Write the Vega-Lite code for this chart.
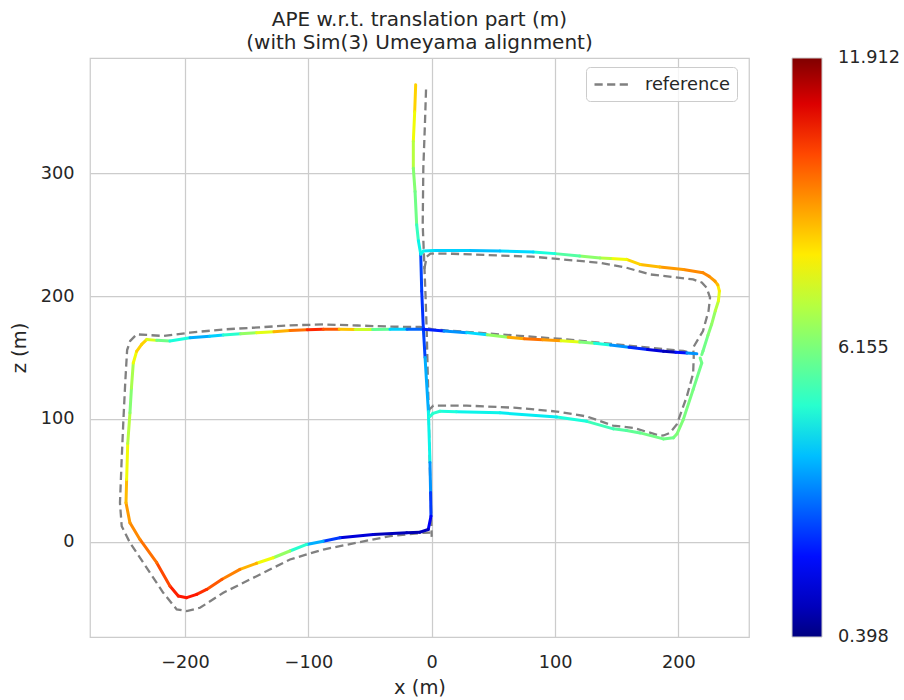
{
  "$schema": "https://vega.github.io/schema/vega-lite/v6.json",
  "width": 659,
  "height": 579,
  "autosize": {"type": "none"},
  "padding": {"left": 90, "top": 58, "right": 155, "bottom": 63},
  "background": "white",
  "title": {
    "text": ["APE w.r.t. translation part (m)", "(with Sim(3) Umeyama alignment)"],
    "fontSize": 20,
    "fontWeight": "normal",
    "color": "#262626",
    "font": "DejaVu Sans",
    "anchor": "middle",
    "lineHeight": 23,
    "offset": 5
  },
  "datasets": {
    "est": [
      {"s": 1, "i": 1, "x": -13.0, "z": 372, "e": 8.3},
      {"s": 1, "i": 2, "x": -13.8, "z": 350, "e": 7.8},
      {"s": 1, "i": 3, "x": -14.9, "z": 326, "e": 7.0},
      {"s": 1, "i": 4, "x": -14.9, "z": 304, "e": 6.3},
      {"s": 1, "i": 5, "x": -13.5, "z": 285, "e": 6.0},
      {"s": 1, "i": 6, "x": -12.2, "z": 258, "e": 5.2},
      {"s": 1, "i": 7, "x": -10.8, "z": 245, "e": 4.6},
      {"s": 1, "i": 8, "x": -8.9, "z": 234, "e": 2.6},
      {"s": 1, "i": 9, "x": -8.1, "z": 204, "e": 2.4},
      {"s": 1, "i": 10, "x": -6.8, "z": 174, "e": 2.6},
      {"s": 1, "i": 11, "x": -5.4, "z": 150, "e": 3.8},
      {"s": 1, "i": 12, "x": -2.7, "z": 106, "e": 4.6},
      {"s": 1, "i": 13, "x": -1.4, "z": 64.5, "e": 3.5},
      {"s": 1, "i": 14, "x": -0.9, "z": 40, "e": 2.5},
      {"s": 1, "i": 15, "x": -0.6, "z": 20.8, "e": 1.6},
      {"s": 1, "i": 16, "x": -2.8, "z": 10, "e": 1.0},
      {"s": 1, "i": 17, "x": -9.5, "z": 7.8, "e": 0.9},
      {"s": 1, "i": 18, "x": -20.3, "z": 7.3, "e": 1.0},
      {"s": 1, "i": 19, "x": -47.4, "z": 5.9, "e": 1.3},
      {"s": 1, "i": 20, "x": -74.4, "z": 3.2, "e": 2.5},
      {"s": 1, "i": 21, "x": -88, "z": 0.5, "e": 3.8},
      {"s": 1, "i": 22, "x": -101.4, "z": -2.2, "e": 5.0},
      {"s": 1, "i": 23, "x": -115, "z": -7.5, "e": 6.5},
      {"s": 1, "i": 24, "x": -128.5, "z": -13, "e": 7.8},
      {"s": 1, "i": 25, "x": -142, "z": -17.5, "e": 8.7},
      {"s": 1, "i": 26, "x": -155.5, "z": -22.5, "e": 9.3},
      {"s": 1, "i": 27, "x": -170, "z": -30.5, "e": 9.8},
      {"s": 1, "i": 28, "x": -182.5, "z": -38.8, "e": 10.3},
      {"s": 1, "i": 29, "x": -190.6, "z": -42.8, "e": 10.6},
      {"s": 1, "i": 30, "x": -198.7, "z": -45.5, "e": 10.6},
      {"s": 1, "i": 31, "x": -205.5, "z": -44.2, "e": 10.5},
      {"s": 1, "i": 32, "x": -212.3, "z": -36, "e": 10.0},
      {"s": 1, "i": 33, "x": -223, "z": -17, "e": 9.5},
      {"s": 1, "i": 34, "x": -236.6, "z": 1.9, "e": 9.2},
      {"s": 1, "i": 35, "x": -244.7, "z": 15.4, "e": 9.0},
      {"s": 1, "i": 36, "x": -247.9, "z": 31.7, "e": 8.6},
      {"s": 1, "i": 37, "x": -247.4, "z": 50.7, "e": 7.8},
      {"s": 1, "i": 38, "x": -246.5, "z": 80, "e": 7.0},
      {"s": 1, "i": 39, "x": -244.7, "z": 104.9, "e": 6.3},
      {"s": 1, "i": 40, "x": -243.5, "z": 125, "e": 6.8},
      {"s": 1, "i": 41, "x": -242, "z": 145.5, "e": 7.8},
      {"s": 1, "i": 42, "x": -239.3, "z": 155, "e": 8.3},
      {"s": 1, "i": 43, "x": -235.2, "z": 160.7, "e": 8.3},
      {"s": 1, "i": 44, "x": -231, "z": 164.7, "e": 7.5},
      {"s": 1, "i": 45, "x": -223, "z": 163.9, "e": 6.0},
      {"s": 1, "i": 46, "x": -212.3, "z": 163.4, "e": 4.8},
      {"s": 1, "i": 47, "x": -196, "z": 166.1, "e": 3.8},
      {"s": 1, "i": 48, "x": -180, "z": 167.3, "e": 4.2},
      {"s": 1, "i": 49, "x": -169, "z": 168.3, "e": 5.0},
      {"s": 1, "i": 50, "x": -155, "z": 169.2, "e": 6.5},
      {"s": 1, "i": 51, "x": -142, "z": 170.2, "e": 7.6},
      {"s": 1, "i": 52, "x": -128, "z": 171, "e": 8.7},
      {"s": 1, "i": 53, "x": -114.9, "z": 172, "e": 9.5},
      {"s": 1, "i": 54, "x": -101, "z": 172.5, "e": 10.4},
      {"s": 1, "i": 55, "x": -87.9, "z": 172.9, "e": 9.8},
      {"s": 1, "i": 56, "x": -75, "z": 172.9, "e": 8.5},
      {"s": 1, "i": 57, "x": -62, "z": 172.8, "e": 7.3},
      {"s": 1, "i": 58, "x": -48, "z": 172.8, "e": 5.8},
      {"s": 1, "i": 59, "x": -33.8, "z": 172.9, "e": 4.2},
      {"s": 1, "i": 60, "x": -20, "z": 172.9, "e": 3.0},
      {"s": 1, "i": 61, "x": -6.8, "z": 172.9, "e": 2.2},
      {"s": 1, "i": 62, "x": 10, "z": 171.5, "e": 3.5},
      {"s": 1, "i": 63, "x": 28.4, "z": 170.2, "e": 4.3},
      {"s": 1, "i": 64, "x": 45, "z": 168.5, "e": 6.5},
      {"s": 1, "i": 65, "x": 62, "z": 166.5, "e": 8.8},
      {"s": 1, "i": 66, "x": 75, "z": 165.3, "e": 9.5},
      {"s": 1, "i": 67, "x": 90, "z": 164.5, "e": 9.0},
      {"s": 1, "i": 68, "x": 105, "z": 163.6, "e": 7.6},
      {"s": 1, "i": 69, "x": 120, "z": 162.5, "e": 6.2},
      {"s": 1, "i": 70, "x": 132, "z": 161.6, "e": 4.8},
      {"s": 1, "i": 71, "x": 145, "z": 160.2, "e": 3.5},
      {"s": 1, "i": 72, "x": 160, "z": 158.3, "e": 2.3},
      {"s": 1, "i": 73, "x": 175, "z": 156.5, "e": 1.3},
      {"s": 1, "i": 74, "x": 188, "z": 155, "e": 1.0},
      {"s": 1, "i": 75, "x": 198, "z": 154.3, "e": 2.0},
      {"s": 1, "i": 76, "x": 207, "z": 153.6, "e": 3.5},
      {"s": 1, "i": 77, "x": 215, "z": 153, "e": 4.8},
      {"s": 2, "i": 1, "x": 219, "z": 152.3, "e": 6.0},
      {"s": 2, "i": 2, "x": 220, "z": 155.3, "e": 6.0},
      {"s": 2, "i": 3, "x": 224, "z": 168, "e": 6.3},
      {"s": 2, "i": 4, "x": 227, "z": 177, "e": 6.5},
      {"s": 2, "i": 5, "x": 230, "z": 188, "e": 7.0},
      {"s": 2, "i": 6, "x": 232.5, "z": 196, "e": 7.6},
      {"s": 2, "i": 7, "x": 233.3, "z": 204, "e": 8.0},
      {"s": 2, "i": 8, "x": 232, "z": 209, "e": 8.6},
      {"s": 2, "i": 9, "x": 229.8, "z": 212, "e": 9.0},
      {"s": 2, "i": 10, "x": 225, "z": 216, "e": 9.2},
      {"s": 2, "i": 11, "x": 220, "z": 219, "e": 9.2},
      {"s": 2, "i": 12, "x": 204, "z": 221.6, "e": 9.0},
      {"s": 2, "i": 13, "x": 185, "z": 223.7, "e": 8.6},
      {"s": 2, "i": 14, "x": 169, "z": 225.7, "e": 8.3},
      {"s": 2, "i": 15, "x": 158, "z": 229.8, "e": 7.8},
      {"s": 2, "i": 16, "x": 145, "z": 230.5, "e": 7.0},
      {"s": 2, "i": 17, "x": 136.5, "z": 231, "e": 6.4},
      {"s": 2, "i": 18, "x": 120, "z": 232.5, "e": 5.6},
      {"s": 2, "i": 19, "x": 100, "z": 234.5, "e": 4.8},
      {"s": 2, "i": 20, "x": 82.4, "z": 235.8, "e": 4.3},
      {"s": 2, "i": 21, "x": 55.4, "z": 236.6, "e": 4.0},
      {"s": 2, "i": 22, "x": 30, "z": 237, "e": 4.2},
      {"s": 2, "i": 23, "x": 1.3, "z": 237, "e": 4.4},
      {"s": 2, "i": 24, "x": -6.8, "z": 236.6, "e": 4.6},
      {"s": 2, "i": 25, "x": -8.9, "z": 234, "e": 4.0},
      {"s": 3, "i": 1, "x": 217.7, "z": 149.6, "e": 6.0},
      {"s": 3, "i": 2, "x": 219, "z": 145.5, "e": 6.0},
      {"s": 3, "i": 3, "x": 212, "z": 123.8, "e": 6.1},
      {"s": 3, "i": 4, "x": 204, "z": 99.4, "e": 6.2},
      {"s": 3, "i": 5, "x": 199, "z": 88, "e": 6.2},
      {"s": 3, "i": 6, "x": 196, "z": 84.6, "e": 6.0},
      {"s": 3, "i": 7, "x": 187.8, "z": 83.7, "e": 6.0},
      {"s": 3, "i": 8, "x": 169, "z": 88.6, "e": 5.8},
      {"s": 3, "i": 9, "x": 158, "z": 90.5, "e": 5.6},
      {"s": 3, "i": 10, "x": 147.3, "z": 91.9, "e": 5.3},
      {"s": 3, "i": 11, "x": 125.7, "z": 98, "e": 4.8},
      {"s": 3, "i": 12, "x": 101.4, "z": 101.6, "e": 4.5},
      {"s": 3, "i": 13, "x": 55.4, "z": 104.9, "e": 4.6},
      {"s": 3, "i": 14, "x": 20, "z": 105.8, "e": 4.8},
      {"s": 3, "i": 15, "x": 6.7, "z": 106.2, "e": 5.0},
      {"s": 3, "i": 16, "x": 1, "z": 104.5, "e": 5.0},
      {"s": 3, "i": 17, "x": -1.4, "z": 102, "e": 5.0}
    ],
    "ref": [
      {"s": 1, "i": 1, "x": -4.6, "z": 368},
      {"s": 1, "i": 2, "x": -5.5, "z": 340},
      {"s": 1, "i": 3, "x": -6.8, "z": 304},
      {"s": 1, "i": 4, "x": -7.3, "z": 258},
      {"s": 1, "i": 5, "x": -6.2, "z": 231},
      {"s": 1, "i": 6, "x": -5, "z": 200},
      {"s": 1, "i": 7, "x": -4, "z": 170},
      {"s": 1, "i": 8, "x": -3.3, "z": 140},
      {"s": 1, "i": 9, "x": -2.5, "z": 110},
      {"s": 1, "i": 10, "x": -1.5, "z": 60},
      {"s": 1, "i": 11, "x": -0.5, "z": 25},
      {"s": 1, "i": 12, "x": 0, "z": 4},
      {"s": 2, "i": 1, "x": -1, "z": 7.5},
      {"s": 2, "i": 2, "x": -6.8, "z": 7.3},
      {"s": 2, "i": 3, "x": -33.8, "z": 4.6},
      {"s": 2, "i": 4, "x": -60.8, "z": -0.8},
      {"s": 2, "i": 5, "x": -87.9, "z": -6.3},
      {"s": 2, "i": 6, "x": -114.9, "z": -14.4},
      {"s": 2, "i": 7, "x": -142, "z": -28},
      {"s": 2, "i": 8, "x": -169, "z": -41.5},
      {"s": 2, "i": 9, "x": -187.9, "z": -53.7},
      {"s": 2, "i": 10, "x": -198.7, "z": -56.4},
      {"s": 2, "i": 11, "x": -206.8, "z": -55},
      {"s": 2, "i": 12, "x": -217.7, "z": -41.5},
      {"s": 2, "i": 13, "x": -233.9, "z": -17},
      {"s": 2, "i": 14, "x": -244.7, "z": -0.8},
      {"s": 2, "i": 15, "x": -251.4, "z": 12.7},
      {"s": 2, "i": 16, "x": -252.8, "z": 31.7},
      {"s": 2, "i": 17, "x": -251.5, "z": 65},
      {"s": 2, "i": 18, "x": -250, "z": 99.4},
      {"s": 2, "i": 19, "x": -248.5, "z": 130},
      {"s": 2, "i": 20, "x": -247, "z": 156},
      {"s": 2, "i": 21, "x": -244.5, "z": 163.5},
      {"s": 2, "i": 22, "x": -239.3, "z": 168.8},
      {"s": 2, "i": 23, "x": -231, "z": 168.3},
      {"s": 2, "i": 24, "x": -217.7, "z": 167.5},
      {"s": 2, "i": 25, "x": -196, "z": 170.2},
      {"s": 2, "i": 26, "x": -169, "z": 172.8},
      {"s": 2, "i": 27, "x": -140, "z": 174.5},
      {"s": 2, "i": 28, "x": -114.9, "z": 176.1},
      {"s": 2, "i": 29, "x": -87.9, "z": 176.9},
      {"s": 2, "i": 30, "x": -60, "z": 176},
      {"s": 2, "i": 31, "x": -30, "z": 175},
      {"s": 2, "i": 32, "x": -9.5, "z": 174.8},
      {"s": 2, "i": 33, "x": 1.3, "z": 172.8},
      {"s": 2, "i": 34, "x": 55.4, "z": 168.8},
      {"s": 2, "i": 35, "x": 109.5, "z": 164.7},
      {"s": 2, "i": 36, "x": 163.5, "z": 159.3},
      {"s": 2, "i": 37, "x": 204, "z": 155.3},
      {"s": 2, "i": 38, "x": 209.5, "z": 153.9},
      {"s": 3, "i": 1, "x": -6, "z": 222},
      {"s": 3, "i": 2, "x": -4, "z": 232},
      {"s": 3, "i": 3, "x": -1, "z": 234.5},
      {"s": 3, "i": 4, "x": 17, "z": 234.4},
      {"s": 3, "i": 5, "x": 82, "z": 232},
      {"s": 3, "i": 6, "x": 136.5, "z": 227},
      {"s": 3, "i": 7, "x": 158, "z": 223},
      {"s": 3, "i": 8, "x": 177, "z": 217.6},
      {"s": 3, "i": 9, "x": 212, "z": 213.5},
      {"s": 3, "i": 10, "x": 219, "z": 211},
      {"s": 3, "i": 11, "x": 223, "z": 206.7},
      {"s": 3, "i": 12, "x": 225.7, "z": 198.6},
      {"s": 3, "i": 13, "x": 224.5, "z": 188},
      {"s": 3, "i": 14, "x": 220, "z": 171.5},
      {"s": 3, "i": 15, "x": 212, "z": 158},
      {"s": 3, "i": 16, "x": 212.5, "z": 151},
      {"s": 3, "i": 17, "x": 212, "z": 137},
      {"s": 3, "i": 18, "x": 206.8, "z": 118},
      {"s": 3, "i": 19, "x": 198.7, "z": 95.4},
      {"s": 3, "i": 20, "x": 193, "z": 88.5},
      {"s": 3, "i": 21, "x": 188, "z": 86.5},
      {"s": 3, "i": 22, "x": 185, "z": 86.4},
      {"s": 3, "i": 23, "x": 163.5, "z": 92.7},
      {"s": 3, "i": 24, "x": 147, "z": 94.6},
      {"s": 3, "i": 25, "x": 125.7, "z": 102},
      {"s": 3, "i": 26, "x": 101.4, "z": 106},
      {"s": 3, "i": 27, "x": 68.9, "z": 109},
      {"s": 3, "i": 28, "x": 28.4, "z": 110.8},
      {"s": 3, "i": 29, "x": 1.3, "z": 110.8},
      {"s": 3, "i": 30, "x": -1.9, "z": 107.6},
      {"s": 3, "i": 31, "x": -2.5, "z": 103}
    ]
  },
  "layer": [
    {
      "data": {"name": "ref"},
      "mark": {"type": "line", "color": "#808080", "strokeWidth": 2.3, "clip": true},
      "encoding": {
        "x": {"field": "x", "type": "quantitative", "scale": {"domain": [-277.1, 257.3], "nice": false, "zero": false},
              "axis": {"title": "x (m)", "values": [-200, -100, 0, 100, 200], "labelPadding": 16, "titlePadding": 8}},
        "y": {"field": "z", "type": "quantitative", "scale": {"domain": [-77.5, 393.7], "nice": false, "zero": false},
              "axis": {"title": "z (m)", "values": [0, 100, 200, 300], "labelPadding": 16, "titlePadding": 11}},
        "detail": {"field": "s", "type": "nominal"},
        "order": {"field": "i", "type": "quantitative"},
        "strokeDash": {
          "datum": "reference",
          "type": "nominal",
          "scale": {"range": [[8.2, 4.4]]},
          "legend": {
            "orient": "none", "legendX": 496, "legendY": 9, "title": null,
            "symbolType": "M-1,0H3", "symbolSize": 324, "symbolStrokeColor": "#808080", "symbolStrokeWidth": 2.3,
            "labelFontSize": 17.8, "labelColor": "#262626", "labelOffset": 31, "padding": 7,
            "strokeColor": "#cccccc", "cornerRadius": 4, "fillColor": "rgba(255,255,255,0.8)"
          }
        }
      }
    },
    {
      "data": {"name": "est"},
      "transform": [
        {"window": [{"op": "lead", "field": "x", "as": "x2"}, {"op": "lead", "field": "z", "as": "z2"}],
         "groupby": ["s"], "sort": [{"field": "i", "order": "ascending"}]},
        {"filter": "datum.x2 != null"}
      ],
      "mark": {"type": "rule", "strokeWidth": 3, "strokeCap": "round", "clip": true},
      "encoding": {
        "x": {"field": "x", "type": "quantitative"},
        "y": {"field": "z", "type": "quantitative"},
        "x2": {"field": "x2"},
        "y2": {"field": "z2"},
        "color": {
          "field": "e", "type": "quantitative",
          "scale": {
            "domain": [0.398, 1.665, 1.837, 4.313, 4.428, 4.716, 7.767, 7.882, 7.997, 10.645, 10.876, 11.912],
            "range": ["#000080", "#0000ff", "#0000ff", "#00dbff", "#00e5f7", "#14ffe2", "#eeff08", "#f7f500", "#ffec00", "#ff1300", "#e80000", "#800000"],
            "interpolate": "rgb"
          },
          "legend": {
            "orient": "none", "legendX": 702, "legendY": 0, "direction": "vertical",
            "gradientLength": 579, "gradientThickness": 30, "values": [0.398, 6.155, 11.912], "format": ".3f",
            "title": null, "labelFontSize": 17.7, "labelColor": "#262626", "labelOffset": 16, "labelBaseline": "middle",
            "gradientStrokeColor": "#cccccc", "gradientStrokeWidth": 1,
            "encoding": {"labels": {"baseline": {"value": "middle"}}}
          }
        }
      }
    }
  ],
  "config": {
    "font": "DejaVu Sans",
    "view": {"stroke": "#cccccc", "strokeWidth": 1.25},
    "axis": {
      "domain": false, "ticks": false, "grid": true, "gridColor": "#cccccc", "gridWidth": 1.25, "gridOpacity": 1,
      "labelFontSize": 17.7, "labelColor": "#262626", "labelFont": "DejaVu Sans",
      "titleFontSize": 19.5, "titleFontWeight": "normal", "titleColor": "#262626", "titleFont": "DejaVu Sans"
    },
    "legend": {"labelFont": "DejaVu Sans"}
  }
}
